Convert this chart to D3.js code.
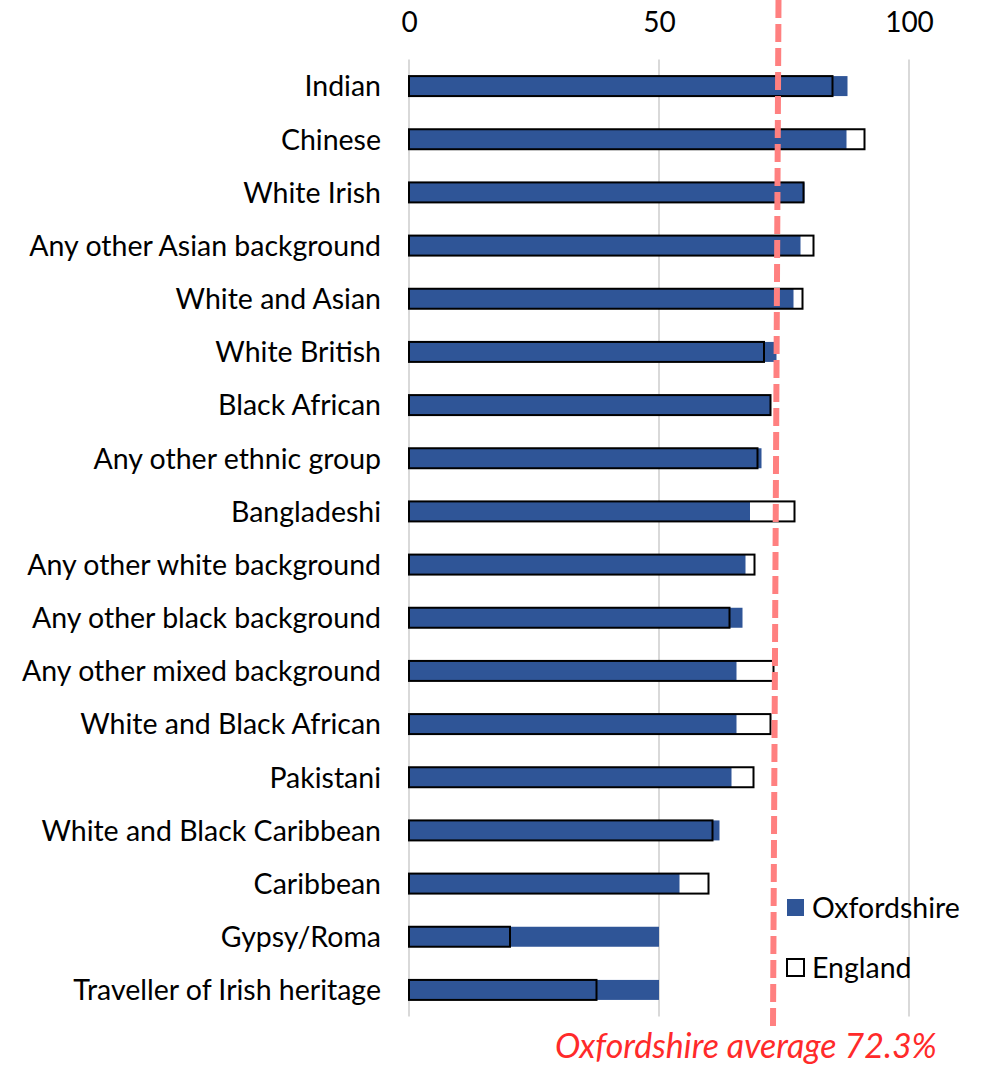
<!DOCTYPE html>
<html>
<head>
<meta charset="utf-8">
<script src="https://cdn.jsdelivr.net/npm/d3@7"></script>
<style>
  html, body { margin: 0; padding: 0; background: #fff; }
  svg { display: block; }
  text { font-family: Lato, "Open Sans", sans-serif; }
</style>
</head>
<body>
<svg id="chart" width="982" height="1066"></svg>
<script>
// ---- data ----
const categories = [
  "Indian", "Chinese", "White Irish", "Any other Asian background", "White and Asian",
  "White British", "Black African", "Any other ethnic group", "Bangladeshi",
  "Any other white background", "Any other black background", "Any other mixed background",
  "White and Black African", "Pakistani", "White and Black Caribbean", "Caribbean",
  "Gypsy/Roma", "Traveller of Irish heritage"
];
const oxfordshire = [87.7, 87.5, 79.1, 78.3, 76.9, 73.5, 72.2, 70.5, 68.2, 67.3, 66.7, 65.5, 65.5, 64.5, 62.1, 54.1, 50.0, 50.0];
const england     = [84.7, 91.1, 78.9, 80.9, 78.7, 71.0, 72.3, 69.7, 77.1, 69.1, 64.1, 72.9, 72.3, 68.9, 60.7, 59.9, 20.2, 37.5];
const xTicks = [0, 50, 100];
const seriesNames = ["Oxfordshire", "England"];
const averageLabel = "Oxfordshire average 72.3%";
const averageLineEnds = [73.9, 72.8]; // drawn position (top, bottom)

// ---- layout ----
const svg = d3.select("#chart");
const x = d3.scaleLinear().domain([0, 100]).range([409, 909]);
const y = d3.scaleBand().domain(categories).range([59.5, 1016.5]).paddingInner(0.624).paddingOuter(0.312);

const blue = "#2f5597";

// gridlines
svg.append("g").selectAll("line").data(xTicks).join("line")
  .attr("x1", d => x(d)).attr("x2", d => x(d))
  .attr("y1", y.range()[0]).attr("y2", y.range()[1])
  .attr("stroke", "#d9d9d9").attr("stroke-width", 2);

// top axis labels
const axis = d3.axisTop(x).tickValues(xTicks).tickSize(0).tickPadding(0);
const ax = svg.append("g").attr("transform", "translate(0,32)").call(axis);
ax.select(".domain").remove();
ax.selectAll("text").attr("font-size", 28).attr("fill", "#000")
  .style("font-family", "Lato, sans-serif").attr("dy", 0).attr("y", 0);

// category labels
const labels = svg.append("g").selectAll("text").data(categories).join("text")
  .attr("x", 381).attr("y", d => y(d) + y.bandwidth() / 2)
  .attr("dy", "0.36em").attr("text-anchor", "end")
  .attr("fill", "#000").attr("font-size", 27).text(d => d);
// fit font to the reference label width
const longest = labels.filter(d => d === "Any other mixed background").node();
const fs = 27 * 359 / longest.getComputedTextLength();
labels.attr("font-size", fs);

// Oxfordshire bars
svg.append("g").selectAll("rect").data(categories).join("rect")
  .attr("x", x(0)).attr("y", d => y(d))
  .attr("width", (d, i) => x(oxfordshire[i]) - x(0))
  .attr("height", y.bandwidth())
  .attr("fill", blue);

// England bars (outline only)
svg.append("g").selectAll("rect").data(categories).join("rect")
  .attr("x", x(0)).attr("y", d => y(d))
  .attr("width", (d, i) => x(england[i]) - x(0))
  .attr("height", y.bandwidth())
  .attr("fill", "none").attr("stroke", "#000").attr("stroke-width", 2);

// legend
const leg = svg.append("g");
const legY = [899, 959];
seriesNames.forEach((name, i) => {
  leg.append("rect").attr("x", 787).attr("y", legY[i]).attr("width", 17).attr("height", 17)
    .attr("fill", i === 0 ? blue : "#fff")
    .attr("stroke", i === 0 ? "none" : "#000").attr("stroke-width", 2);
  leg.append("text").attr("x", 812).attr("y", legY[i] + 9).attr("dy", "0.36em")
    .attr("font-size", fs).attr("fill", "#000").text(name);
});

// average dashed line
svg.append("line")
  .attr("x1", x(averageLineEnds[0])).attr("y1", 0)
  .attr("x2", x(averageLineEnds[1])).attr("y2", 1026)
  .attr("stroke", "#ff8080").attr("stroke-width", 6)
  .attr("stroke-dasharray", "18,6");

const avg = svg.append("text").attr("x", 555).attr("y", 1058)
  .attr("font-size", 30).attr("font-style", "italic").attr("fill", "#ff2a2a")
  .text(averageLabel);
const aw = avg.node().getComputedTextLength();
avg.attr("font-size", 30 * 382 / aw);
</script>
</body>
</html>
